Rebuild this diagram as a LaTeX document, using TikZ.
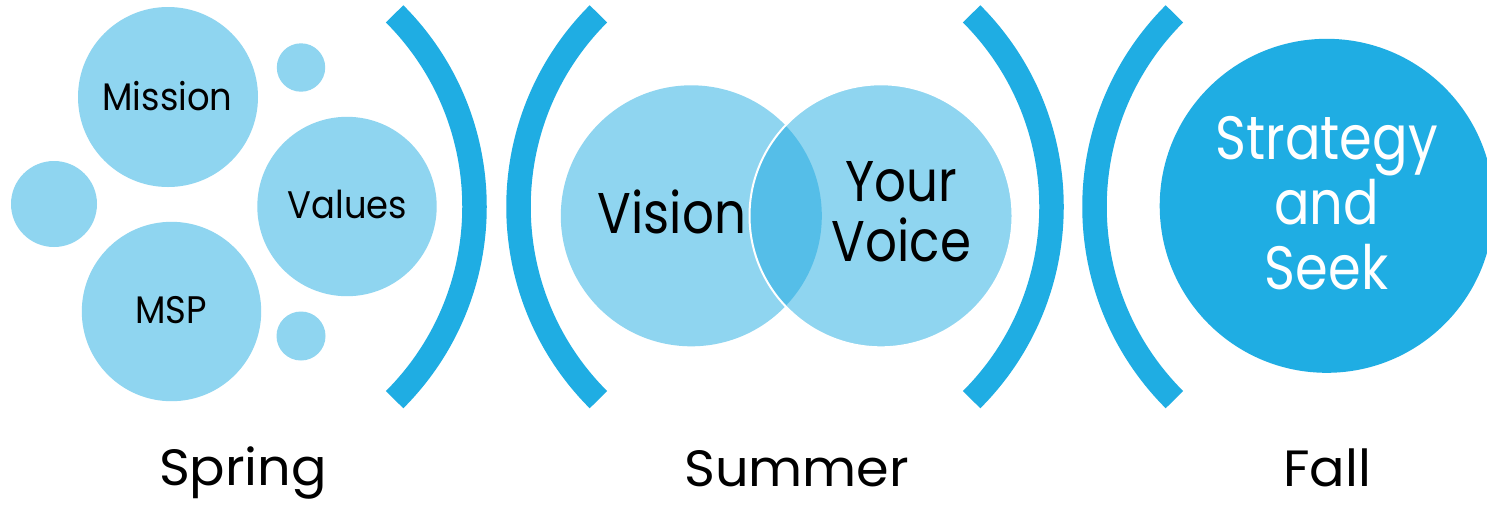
\documentclass[tikz,border=0pt]{standalone}
\usepackage{fontspec}
\setmainfont{Poppins}
\newfontfamily\smallfnt[FakeStretch=0.92]{Poppins}
\newfontfamily\bigfnt[FakeStretch=0.87]{Poppins}
\newfontfamily\fallfnt[FakeStretch=0.86]{Poppins}
\newfontfamily\seasonfnt[FakeStretch=1.03]{Poppins}
\definecolor{lightblue}{HTML}{8FD5F0}
\definecolor{midblue}{HTML}{55BEE8}
\definecolor{darkblue}{HTML}{1FADE3}
\tikzset{
  bubble/.style={circle, fill=lightblue, draw=none, inner sep=0pt, minimum size=#1},
  paren/.style={draw=darkblue, line width=12.25pt, line cap=butt},
  smalltext/.style={font=\smallfnt\fontsize{19.2}{22}\selectfont, text=black, anchor=base, inner sep=0pt},
  bigtext/.style={font=\bigfnt\fontsize{28.7}{30}\selectfont, text=black, inner sep=0pt, align=center},
  falltext/.style={font=\fallfnt\fontsize{30.6}{32.5}\selectfont, text=white, inner sep=0pt, align=center},
  season/.style={font=\seasonfnt\fontsize{25.5}{28}\selectfont, text=black, anchor=base, inner sep=0pt}
}
\begin{document}
\begin{tikzpicture}[x=0.5pt, y=-0.5pt]
\clip (0,0) rectangle (1487,510);
\fill[white] (0,0) rectangle (1487,510);
% Spring bubbles
\node[bubble=90pt] (mission) at (168,97) {};
\node[bubble=24.2pt] (dot1) at (301,67.5) {};
\node[bubble=43pt] (dot2) at (54,204) {};
\node[bubble=89.7pt] (values) at (347,206.5) {};
\node[bubble=89.7pt] (msp) at (171.5,311.5) {};
\node[bubble=24.5pt] (dot3) at (301,336) {};
\node[smalltext] (missiont) at (167.5,110) {Mission};
\node[smalltext] (valuest) at (347.5,218) {Values};
\node[smalltext] (mspt) at (171,323) {MSP};
% parentheses
\coordinate (c1) at (201.7,206.75);
\coordinate (c2) at (791.3,206.75);
\coordinate (c3) at (778.7,206.75);
\coordinate (c4) at (1367.3,206.75);
\draw[paren] (c1) ++(-45:272.8) arc[start angle=-45, end angle=45, radius=272.8];
\draw[paren] (c2) ++(135:272.8) arc[start angle=135, end angle=225, radius=272.8];
\draw[paren] (c3) ++(-45:272.8) arc[start angle=-45, end angle=45, radius=272.8];
\draw[paren] (c4) ++(135:272.8) arc[start angle=135, end angle=225, radius=272.8];
% Venn
\node[bubble=130.5pt] (vision) at (691.3,215.8) {};
\node[bubble=131.5pt] (voice) at (881,215.8) {};
\begin{scope}
  \clip (691.3,215.8) circle[radius=130.5];
  \fill[midblue] (881,215.8) circle[radius=131.5];
\end{scope}
\draw[white, line width=1pt] (881,215.8) circle[radius=131.5];
\node[bigtext, anchor=base] (visiont) at (672,233.3) {Vision};
\node[bigtext] (voicet) at (901.5,211.7) {Your\\Voice};
% Fall
\node[circle, fill=darkblue, inner sep=0pt, minimum size=167pt] (strategy) at (1326.7,205.8) {};
\node[falltext] (strategyt) at (1326.5,203) {Strategy\\and\\Seek};
% seasons
\node[season] (spring) at (243,485) {Spring};
\node[season] (summer) at (796.7,486) {Summer};
\node[season] (fall) at (1327,486) {Fall};
\end{tikzpicture}
\end{document}
